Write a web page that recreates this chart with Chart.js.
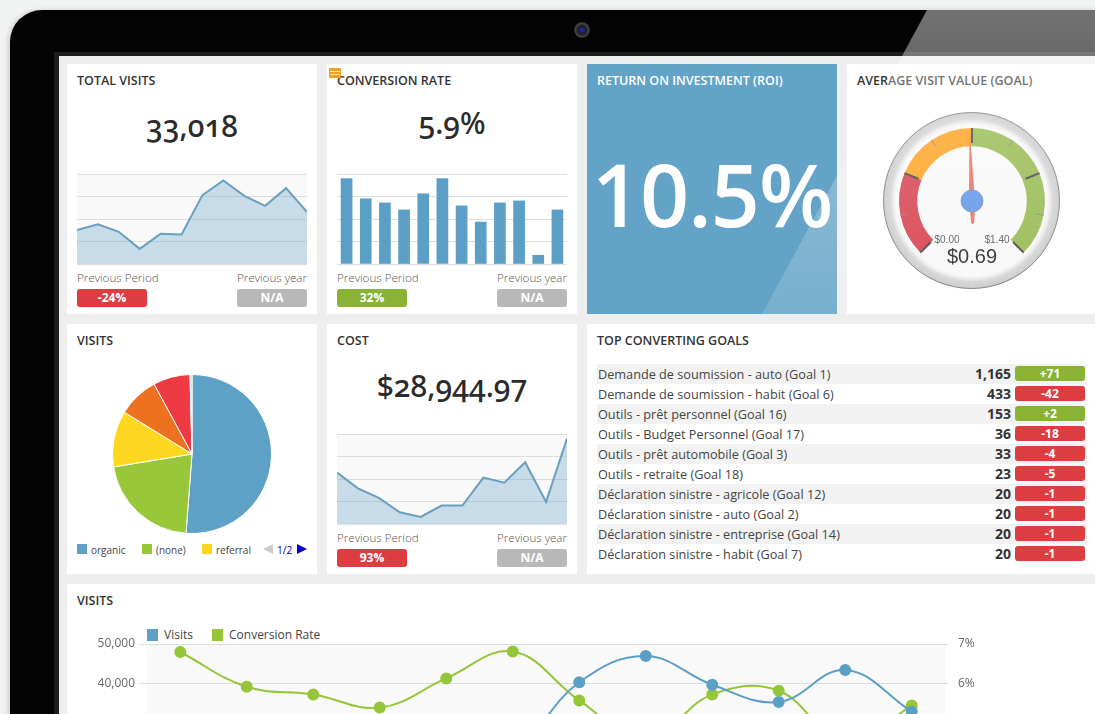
<!DOCTYPE html>
<html>
<head>
<meta charset="utf-8">
<title>Dashboard</title>
<script src="https://cdn.jsdelivr.net/npm/chart.js@4"></script>
<style>
html, body { margin: 0; padding: 0; width: 1095px; height: 714px; overflow: hidden; background: #f1f3f3; font-family: "Open Sans", sans-serif; color: #333; }
div, canvas, span { position: absolute; }
canvas { display: block; }
#bezel { left: 10px; top: 10px; width: 1300px; height: 900px; background: #040404; border-radius: 32px 0 0 0; box-shadow: -2px 0 4px rgba(0,0,0,.15); }
#rim { left: 54px; top: 52px; width: 1200px; height: 800px; background: #1c1c1c; }
#screen { left: 59px; top: 56px; width: 1100px; height: 760px; background: #eeeeee; }
#cam { left: 574px; top: 22px; width: 16px; height: 16px; border-radius: 50%; background: radial-gradient(circle closest-side, #2c2ca0 0, #1c1c70 35%, #1e1e1e 50%, #444 85%, #222 100%); }
.card { background: #fff; }
.title { font-size: 12.5px; font-weight: 600; color: #333; white-space: nowrap; }
.kpi { text-align: center; width: 250px; font-family: "Noto Sans", sans-serif; font-weight: 500; font-feature-settings: "onum" 1; font-size: 30px; color: #2b2b2b; white-space: nowrap; }
.cap { font-size: 11.6px; font-weight: 300; color: #555; white-space: nowrap; }
.badge { width: 70px; height: 18px; line-height: 18px; border-radius: 3px; color: #fff; font-size: 12px; font-weight: 700; text-align: center; }
.red { background: #dc3d41; }
.green { background: #8ab234; }
.grey { background: #b8b8b8; }
.row { left: 597px; width: 490px; height: 20px; line-height: 20px; font-size: 12.7px; color: #444; white-space: nowrap; }
.row .num { left: 340px; width: 74px; text-align: right; font-weight: 700; font-size: 14px; color: #333; }
.row .chg { left: 418px; top: 2px; width: 70px; height: 15px; line-height: 15px; border-radius: 3px; color: #fff; font-size: 12px; font-weight: 700; text-align: center; }
.row .lbl { left: 1px; top: 0; }
.sw { width: 10px; height: 10px; }
.leg { font-size: 10px; color: #444; white-space: nowrap; }
#glare { left: 0; top: 10px; width: 1095px; height: 304px; pointer-events: none;
  clip-path: polygon(927px 0, 1095px 0, 1095px 304px, 762px 304px);
  background: linear-gradient(rgba(255,255,255,.44) 0, rgba(255,255,255,.40) 46px, rgba(255,255,255,.33) 47px, rgba(255,255,255,.14) 304px); }
</style>
</head>
<body>
<div id="bezel"></div>
<div id="rim"></div>
<div id="screen"></div>
<div id="cam"></div>
<div id="page"></div>
<div id="glare"></div>
<script>
// Sparklines and small bars (share of the plot height)
const visitsTrend = [37.7, 44, 35.8, 16.8, 33.6, 32.8, 76.5, 92.9, 75.7, 64.6, 84.3, 57.8];
const conversionBars = [94.8, 72.4, 67.9, 60.1, 78, 94.8, 64.6, 46.6, 67.9, 70.1, 9.7, 60.1];
const costTrend = [57.1, 39.6, 29.1, 13.1, 7.8, 20.5, 20.5, 51.5, 45.9, 68.7, 24.6, 94.8];
const periods = ["1", "2", "3", "4", "5", "6", "7", "8", "9", "10", "11", "12"];

// Pie
const pieLabels = ["organic", "(none)", "referral", "", "", ""];
const pieValues = [51.2, 21.2, 11.4, 8.3, 7.5, 0.4];
const pieColors = ["#5ea1c7", "#98c73a", "#fdd61f", "#ee711f", "#ee3a43", "#cccccc"];

// Gauge
const gaugeBands = [0.35, 0.35, 0.7];
const gaugeColors = ["#d22f3e", "#ff9a0a", "#8cb33e"];
const gaugeValue = 0.69;
const gaugeMax = 1.4;

// Goals table
const goalNames = ["Demande de soumission - auto (Goal 1)", "Demande de soumission - habit (Goal 6)", "Outils - prêt personnel (Goal 16)", "Outils - Budget Personnel (Goal 17)", "Outils - prêt automobile (Goal 3)", "Outils - retraite (Goal 18)", "Déclaration sinistre - agricole (Goal 12)", "Déclaration sinistre - auto (Goal 2)", "Déclaration sinistre - entreprise (Goal 14)", "Déclaration sinistre - habit (Goal 7)"];
const goalCounts = ["1,165", "433", "153", "36", "33", "23", "20", "20", "20", "20"];
const goalChanges = ["+71", "-42", "+2", "-18", "-4", "-5", "-1", "-1", "-1", "-1"];

// Bottom chart, the part under the window edge is estimated
const visitsByPeriod = [24000, 22000, 20000, 21000, 19000, 23000, 40425, 47000, 39825, 35500, 43500, 33075];
const conversionByPeriod = [6.8, 5.93, 5.74, 5.41, 6.14, 6.81, 5.59, 4.6, 5.74, 5.83, 4.5, 5.46];

Chart.defaults.animation = false;
Chart.defaults.responsive = false;
Chart.defaults.font.family = '"Open Sans", sans-serif';
Chart.defaults.plugins.legend.display = false;
Chart.defaults.plugins.tooltip.enabled = false;

const page = document.getElementById("page");

function addBox(cls, left, top, width, height, html) {
    const el = document.createElement("div");
    el.className = cls;
    el.style.left = left + "px";
    el.style.top = top + "px";
    if (width) el.style.width = width + "px";
    if (height) el.style.height = height + "px";
    if (html !== undefined) el.innerHTML = html;
    page.appendChild(el);
    return el;
}

function addCanvas(left, top, width, height) {
    const c = document.createElement("canvas");
    c.width = width;
    c.height = height;
    c.style.left = left + "px";
    c.style.top = top + "px";
    c.style.width = width + "px";
    c.style.height = height + "px";
    page.appendChild(c);
    return c;
}

// Fondo gris claro de la zona del grafico
const plotBackground = {
    id: "plotBackground",
    beforeDraw(chart) {
        const a = chart.chartArea;
        chart.ctx.fillStyle = "#f9f9f9";
        chart.ctx.fillRect(a.left, a.top, a.width, a.height);
    }
};

function sparkScales() {
    return {
        x: { display: false },
        y: {
            min: 0, max: 100,
            ticks: { display: false, stepSize: 25 },
            grid: { color: "#dddddd", drawTicks: false },
            border: { display: false },
            afterFit(s) { s.width = 0; }
        }
    };
}

function sparkline(left, top, values) {
    new Chart(addCanvas(left, top, 230, 92), {
        type: "line",
        data: {
            labels: periods,
            datasets: [{
                data: values,
                borderColor: "#6a9fbf",
                backgroundColor: "rgba(98,160,198,0.33)",
                borderWidth: 2,
                pointRadius: 0,
                tension: 0,
                fill: "origin"
            }]
        },
        options: { layout: { padding: { top: 1, bottom: 1 } }, scales: sparkScales() },
        plugins: [plotBackground]
    });
}

function metricFooter(left, top, change, cls) {
    addBox("cap", left, top, 0, 0, "Previous Period");
    addBox("cap", left + 160, top, 70, 0, '<span style="right:0">Previous&nbsp;year</span>');
    addBox("badge " + cls, left, top + 19).textContent = change;
    addBox("badge grey", left + 160, top + 19).textContent = "N/A";
}

// Row 1
addBox("card", 67, 64, 250, 250);
addBox("title", 77, 72, 0, 0, "TOTAL VISITS");
addBox("kpi", 67, 105, 0, 0, "33,018");
sparkline(77, 173, visitsTrend);
metricFooter(77, 270, "-24%", "red");

addBox("card", 327, 64, 250, 250);
addBox("title", 337, 72, 0, 0, "CONVERSION RATE");
addBox("kpi", 327, 102, 0, 0, "5.9%");
new Chart(addCanvas(337, 173, 230, 92), {
    type: "bar",
    data: { labels: periods, datasets: [{ data: conversionBars, backgroundColor: "#5b9fc6", barThickness: 11 }] },
    options: { layout: { padding: { top: 1, bottom: 1 } }, scales: sparkScales() }
});
metricFooter(337, 270, "32%", "green");
addBox("", 329, 68, 12, 10, "").style.cssText += "background:repeating-linear-gradient(#f0a020 0,#f0a020 2px,#fde6b0 2px,#fde6b0 3px);border:1px solid #f0a020;box-sizing:border-box;border-radius:1px";

addBox("card", 587, 64, 250, 250, "").style.background = "#62a3c7";
addBox("title", 597, 72, 0, 0, "RETURN ON INVESTMENT (ROI)").style.color = "#fff";
addBox("", 587, 134, 250, 0, "10.5%").style.cssText += "text-align:center;color:#fff;font-size:86px;font-weight:600;line-height:120px;white-space:nowrap;letter-spacing:-1px";

addBox("card", 847, 64, 260, 250);
addBox("title", 857, 72, 0, 0, "AVERAGE VISIT VALUE (GOAL)");

// Gauge face under the doughnut
addBox("", 883, 112, 177, 177).style.cssText += "border-radius:50%;box-sizing:border-box;border:1px solid #6f6f6f;background:radial-gradient(circle closest-side, #f8f8f8 0, #f8f8f8 86%, #ececec 89%, #d0d0d0 93%, #c4c4c4 100%)";

const gaugeDial = {
    id: "gaugeDial",
    afterDraw(chart) {
        const arc = chart.getDatasetMeta(0).data[0];
        const ctx = chart.ctx;
        const R = arc.outerRadius;
        const toAngle = v => (v / gaugeMax * 270 - 135 - 90) * Math.PI / 180;
        ctx.save();
        ctx.translate(arc.x, arc.y);
        // marcas
        for (let i = 0; i <= 8; i++) {
            const a = toAngle(gaugeMax * i / 8);
            const major = i % 2 === 0;
            ctx.beginPath();
            ctx.moveTo(Math.cos(a) * (major ? R - 15 : R - 7), Math.sin(a) * (major ? R - 15 : R - 7));
            ctx.lineTo(Math.cos(a) * R, Math.sin(a) * R);
            ctx.strokeStyle = major ? "#333" : "#777";
            ctx.lineWidth = major ? 2 : 1;
            ctx.stroke();
        }
        // aguja
        ctx.rotate(toAngle(gaugeValue) + Math.PI / 2);
        ctx.beginPath();
        ctx.moveTo(0, -R);
        ctx.lineTo(3, 0);
        ctx.lineTo(1.5, 22);
        ctx.lineTo(0, 23);
        ctx.lineTo(-1.5, 22);
        ctx.lineTo(-3, 0);
        ctx.closePath();
        ctx.fillStyle = "#e4654a";
        ctx.fill();
        ctx.rotate(-(toAngle(gaugeValue) + Math.PI / 2));
        ctx.beginPath();
        ctx.arc(0, 0, 11, 0, Math.PI * 2);
        ctx.fillStyle = "#4f8be8";
        ctx.fill();
        ctx.strokeStyle = "#6a86b0";
        ctx.lineWidth = 1;
        ctx.stroke();
        ctx.restore();
    }
};
new Chart(addCanvas(881.5, 111, 180, 180), {
    type: "doughnut",
    data: { labels: ["low", "mid", "high"], datasets: [{ data: gaugeBands, backgroundColor: gaugeColors, borderWidth: 0 }] },
    options: {
        rotation: -135,
        circumference: 270,
        cutout: "75%",
        layout: { padding: { top: 17, left: 17, right: 17, bottom: 38.4 } }
    },
    plugins: [gaugeDial]
});
addBox("", 922, 234, 50, 0, "$0.00").style.cssText += "font:10px 'Liberation Sans',Arial,sans-serif;color:#444;text-align:center";
addBox("", 972, 234, 50, 0, "$1.40").style.cssText += "font:10px 'Liberation Sans',Arial,sans-serif;color:#444;text-align:center";
addBox("", 932, 245, 80, 0, "$0.69").style.cssText += "font:20px 'Liberation Sans',Arial,sans-serif;color:#111;text-align:center";

// Row 2
addBox("card", 67, 324, 250, 250);
addBox("title", 77, 332, 0, 0, "VISITS");
new Chart(addCanvas(112, 374, 160, 160), {
    type: "pie",
    data: { labels: pieLabels, datasets: [{ data: pieValues, backgroundColor: pieColors, borderColor: "#fff", borderWidth: 1 }] },
    options: {}
});
const legendX = [77, 142, 202];
pieLabels.slice(0, 3).forEach(function (name, i) {
    addBox("sw", legendX[i], 544).style.background = pieColors[i];
    addBox("leg", legendX[i] + 14, 543, 0, 0, name);
});
addBox("", 263, 544, 0, 0).style.cssText += "border:5px solid transparent;border-left:0;border-right:10px solid #cccccc";
addBox("leg", 277, 543, 0, 0, "1/2").style.color = "#0000aa";
addBox("", 297, 544, 0, 0).style.cssText += "border:5px solid transparent;border-right:0;border-left:10px solid #0000cc";

addBox("card", 327, 324, 250, 250);
addBox("title", 337, 332, 0, 0, "COST");
addBox("kpi", 327, 365, 0, 0, "$28,944.97");
sparkline(337, 433, costTrend);
metricFooter(337, 530, "93%", "red");

addBox("card", 587, 324, 520, 250);
addBox("title", 597, 332, 0, 0, "TOP CONVERTING GOALS");
goalNames.forEach(function (name, i) {
    const row = addBox("row", 597, 364 + i * 20);
    if (i % 2 === 0) row.style.background = "#f2f2f2";
    const cls = goalChanges[i][0] === "+" ? "green" : "red";
    row.innerHTML = '<span class="lbl">' + name + '</span><span class="num">' + goalCounts[i] + '</span><span class="chg ' + cls + '">' + goalChanges[i] + '</span>';
});

// Row 3
addBox("card", 67, 584, 1100, 300);
addBox("title", 77, 592, 0, 0, "VISITS");
addBox("sw", 147, 629, 11, 12).style.background = "#5ea1c7";
addBox("leg", 164, 626, 0, 0, "Visits").style.fontSize = "12px";
addBox("sw", 212, 629, 11, 12).style.background = "#95c539";
addBox("leg", 229, 626, 0, 0, "Conversion Rate").style.fontSize = "12px";

new Chart(addCanvas(67, 634, 1028, 220), {
    type: "line",
    data: {
        labels: periods,
        datasets: [
            { label: "Visits", data: visitsByPeriod, yAxisID: "y", borderColor: "#5c9fc6", backgroundColor: "#5c9fc6", borderWidth: 2, pointRadius: 5, tension: 0.4 },
            { label: "Conversion Rate", data: conversionByPeriod, yAxisID: "y1", borderColor: "#95c539", backgroundColor: "#95c539", borderWidth: 2, pointRadius: 5, tension: 0.4 }
        ]
    },
    options: {
        layout: { padding: { top: 10, bottom: 10 } },
        scales: {
            x: { display: false, offset: true },
            y: {
                position: "left", min: 0, max: 50000,
                ticks: { stepSize: 10000, color: "#666", padding: 4, font: { size: 12 }, callback: v => v.toLocaleString("en-US") },
                grid: { color: "#dddddd", tickLength: 8 },
                border: { display: false },
                afterFit(s) { s.width = 80; s.paddingTop = 0; s.paddingBottom = 0; }
            },
            y1: {
                position: "right", min: 2, max: 7,
                ticks: { stepSize: 1, color: "#666", padding: 10, font: { size: 12 }, callback: v => v + "%" },
                grid: { drawOnChartArea: false, color: "#dddddd", tickLength: 3 },
                border: { display: false },
                afterFit(s) { s.width = 150; s.paddingTop = 0; s.paddingBottom = 0; }
            }
        }
    },
    plugins: [plotBackground]
});
</script>
</body>
</html>
